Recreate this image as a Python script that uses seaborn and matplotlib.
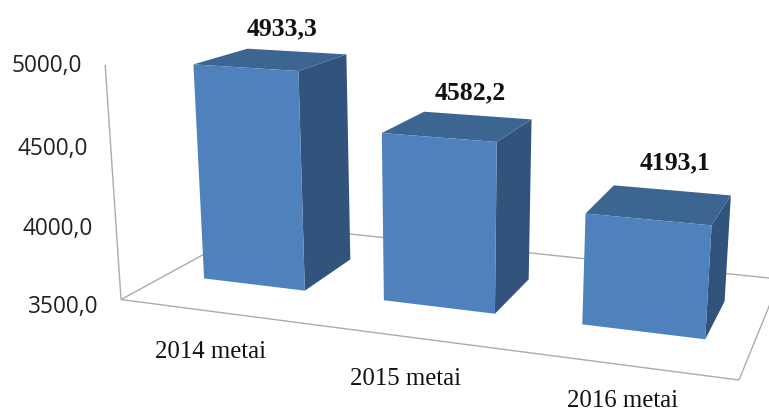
import numpy as np
import pandas as pd
import matplotlib
matplotlib.use("Agg")
import matplotlib.pyplot as plt
from matplotlib.transforms import Transform
import seaborn as sns

# data
categories = ["2014 metai", "2015 metai", "2016 metai"]
values = [4933.3, 4582.2, 4193.1]
value_labels = ["4933,3", "4582,2", "4193,1"]
axis_ticks = [3500.0, 4000.0, 4500.0, 5000.0]
axis_tick_labels = ["3500,0", "4000,0", "4500,0", "5000,0"]

# 3-D look: value axis range, bar footprint and camera
AXIS_MIN, AXIS_MAX = 3500.0, 5000.0
BAR_WIDTH = 0.572
DEPTH_FRONT, DEPTH_BACK = 0.3008, 0.6892
CAM = np.array([
    [169.664204, -20.794565, 188.466043, 121.039703],
    [8.140827, -237.925178, -31.025451, 299.564673],
    [-0.04915, -0.046941, 0.196698, 1.0],
])
W, H = 769, 413


def project(x, above_floor, depth):
    """Camera: category position, height above axis floor, depth -> image pixels."""
    x = np.asarray(x, float)
    v = np.asarray(above_floor, float) / (AXIS_MAX - AXIS_MIN)
    d = np.broadcast_to(depth, x.shape).astype(float)
    pts = CAM @ np.vstack([x, v, d, np.ones_like(x)])
    return pts[0] / pts[2], pts[1] / pts[2]


class BarPlane(Transform):
    """Places the seaborn bars (category index, height) on the front plane of the bars."""
    input_dims = output_dims = 2
    is_separable = False
    has_inverse = False

    def transform_non_affine(self, xy):
        xy = np.asarray(xy, float)
        u, v = project(xy[:, 0] + 0.5, xy[:, 1], DEPTH_FRONT)
        return np.column_stack([u, v])


sns.set_theme(style="white")
plt.rcParams["font.family"] = ["Liberation Serif", "DejaVu Serif"]

fig = plt.figure(figsize=(W / 100, H / 100), dpi=100)
ax = fig.add_axes([0, 0, 1, 1])

df = pd.DataFrame({"year": categories, "height": [v - AXIS_MIN for v in values]})
sns.barplot(data=df, x="year", y="height", color="#4F81BD", saturation=1,
            width=BAR_WIDTH, ax=ax, linewidth=0)

ax.set_xlim(0, W)
ax.set_ylim(H, 0)
ax.axis("off")

to_screen = BarPlane() + ax.transData
for bar in ax.patches:
    bar.set_transform(to_screen)
    bar.set_zorder(3)
    bar.set_clip_on(False)

FRAME = "#ababab"
span = AXIS_MAX - AXIS_MIN
frame_edges = [
    ([0, 0], [0, span], [0, 0]),
    ([0, 3], [0, 0], [0, 0]),
    ([3, 3], [0, 0], [0, 1]),
    ([0, 0], [0, 0], [0, 1]),
    ([0, 3], [0, 0], [1, 1]),
]
for xs, hs, ds in frame_edges:
    u, v = project(xs, hs, ds)
    ax.plot(u, v, color=FRAME, lw=1.0, zorder=1, solid_capstyle="butt")

for i, val in enumerate(values):
    h = val - AXIS_MIN
    x0, x1 = i + 0.5 - BAR_WIDTH / 2, i + 0.5 + BAR_WIDTH / 2
    u, v = project([x1, x1, x1, x1], [0, h, h, 0],
                   [DEPTH_FRONT, DEPTH_FRONT, DEPTH_BACK, DEPTH_BACK])
    ax.fill(u, v, color="#32537C", lw=0, zorder=2)
    u, v = project([x0, x1, x1, x0], [h, h, h, h],
                   [DEPTH_FRONT, DEPTH_FRONT, DEPTH_BACK, DEPTH_BACK])
    ax.fill(u, v, color="#3D6592", lw=0, zorder=2)

value_offsets = [(10, -30), (12, -33), (15, -41)]
for i, val in enumerate(values):
    u, v = project([i + 0.5], [val - AXIS_MIN], (DEPTH_FRONT + DEPTH_BACK) / 2)
    ax.text(u[0] + value_offsets[i][0], v[0] + value_offsets[i][1], value_labels[i],
            ha="center", va="center", fontsize=18.5, fontweight="bold", color="#111111", zorder=5)

cat_offsets = [(-1, 41), (0, 42), (1, 36)]
for i, cat in enumerate(categories):
    u, v = project([i + 0.5], [0], 0)
    ax.text(u[0] + cat_offsets[i][0], v[0] + cat_offsets[i][1], cat,
            ha="center", va="center", fontsize=17.8, color="#111111", zorder=5)

tick_dy = [7, 5, 3, 1]
for t, lab, dy in zip(axis_ticks, axis_tick_labels, tick_dy):
    u, v = project([0], [t - AXIS_MIN], 0)
    ax.text(u[0] - 23, v[0] + dy, lab, ha="right", va="center",
            fontsize=16.3, family=["Open Sans", "DejaVu Sans"], color="#222222", zorder=5)

fig.savefig("out.png", dpi=100, facecolor="white")
